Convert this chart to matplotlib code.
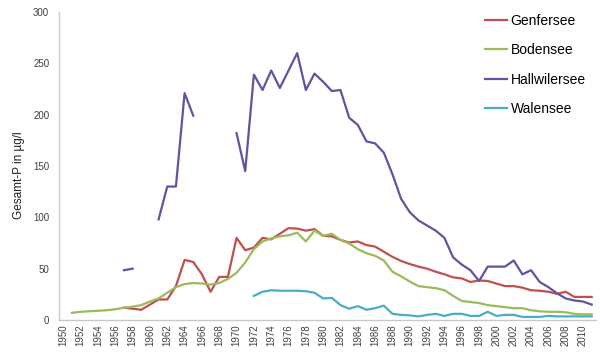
import numpy as np
import matplotlib
matplotlib.use("Agg")
import matplotlib.pyplot as plt

plt.rcParams['font.family'] = ['Liberation Sans', 'DejaVu Sans']

# Gesamt-Phosphor (µg/l), yearly values 1951-2011, None = no measurement
years = list(range(1951, 2012))

genfersee = [None, None, None, None, None, None,
             12, 11, 10, 15, 20, 20, 33, 58.5, 56.5, 44.5, 27.5, 42, 42,
             80, 68, 70.5, 80, 78.5, 84, 89.5, 89, 87, 88.5,
             82, 81.5, 78, 75.5, 76.5, 73, 71.5, 66.5, 61.5, 57.5,
             54.5, 52, 50, 47, 44.5, 41.5, 40.5, 37, 38.5, 38,
             35.5, 33, 33, 31.5, 29, 28.5, 27.5, 25.5, 27.5, 22.5,
             22.5, 22.5]

bodensee = [7, 8, 8.5, 9, 9.5, 10.5, 12, 13, 14.5,
            18, 21, 26.5, 32, 35, 36, 35.5, 34.5, 36, 40,
            46, 56, 69, 76.5, 79.5, 81.5, 82.5, 85, 76.5, 87,
            82, 84, 78, 74.5, 69, 65, 62.5, 58, 47, 42.5,
            37.5, 33, 32, 31, 29, 23.5, 18.5, 17.5, 16.5, 14.5,
            13.5, 12.5, 11.5, 11.5, 9.5, 8.5, 8, 8, 7.5, 6,
            5.5, 5.5]

hallwilersee = [None, None, None, None, None, None,
                48.5, 50, None, None, 98, 130, 130, 221, 199,
                None, None, None, None,
                182, 145, 239, 224, 243, 226, 243, 260, 224, 240,
                232, 223, 224, 197, 190, 174, 172, 163, 142, 118,
                105, 97, 92, 87, 80, 61, 54, 48.5, 38, 52,
                52, 52, 58, 44.5, 48.5, 37, 32, 26, 21, 19,
                18, 15]

walensee = [None] * 21 + [
            23.5, 27.5, 29, 28.5, 28.5, 28.5, 28, 26.5, 21, 21.5,
            14.5, 11, 13.5, 10, 11.5, 14, 6, 5, 4.5, 3.5,
            5, 6, 4, 6, 6, 4, 4, 8, 4, 5,
            5, 3, 3, 3, 4, 3.5, 3.5, 3.5, 3.5, 3.5]

series = [
    ('Genfersee', genfersee, '#C0504D'),
    ('Bodensee', bodensee, '#9BBB59'),
    ('Hallwilersee', hallwilersee, '#6452A0'),
    ('Walensee', walensee, '#4BACC6'),
]

fig = plt.figure(figsize=(6, 3.54), dpi=100)
ax = fig.add_axes([59 / 600, 34 / 354, 537 / 600, 308 / 354])

for name, vals, color in series:
    y = np.array([np.nan if v is None else v for v in vals], dtype=float)
    ax.plot(years, y, color=color, lw=1.6, label=name)

ax.set_xlim(1949.5, 2011.5)
ax.set_ylim(0, 300)
ax.set_yticks(range(0, 301, 50))
ax.set_xticks(range(1950, 2011, 2))
ax.set_xticklabels([str(y) for y in range(1950, 2011, 2)], rotation=90)
ax.tick_params(axis='x', length=0, pad=3, labelsize=7, colors='#404040')
ax.tick_params(axis='y', length=0, pad=7, labelsize=7, colors='#404040')

for s in ['top', 'right']:
    ax.spines[s].set_visible(False)
for s in ['left', 'bottom']:
    ax.spines[s].set_color('#c8c8c8')
    ax.spines[s].set_linewidth(1.0)

ax.set_ylabel('Gesamt-P in µg/l', fontsize=8.5, color='#202020')
ax.yaxis.set_label_coords(-0.064, 0.47)

fig.legend(loc='upper left', bbox_to_anchor=(485 / 600, 1 - 14 / 354),
           frameon=False, fontsize=10, borderpad=0, borderaxespad=0,
           handlelength=1.6, handletextpad=0.25, labelspacing=1.1)

fig.savefig('out.png', dpi=100)
